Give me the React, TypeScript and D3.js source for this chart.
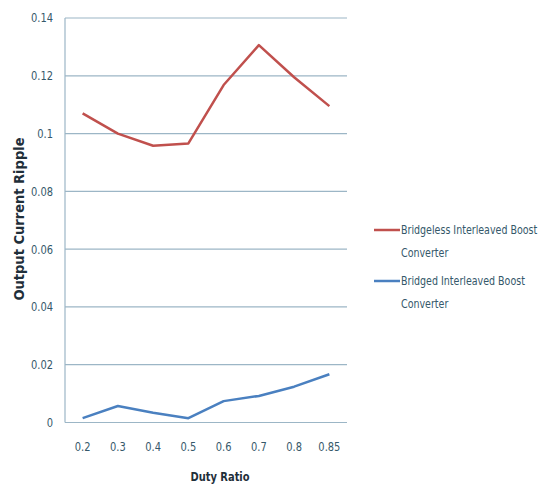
import React from "react";
import * as d3 from "d3";

const categories = ["0.2", "0.3", "0.4", "0.5", "0.6", "0.7", "0.8", "0.85"];
const bridgeless = [0.107, 0.1, 0.0958, 0.0966, 0.1168, 0.1306, 0.1195, 0.1095];
const bridged = [0.0015, 0.0057, 0.0034, 0.0015, 0.0074, 0.0092, 0.0124, 0.0167];
const yTicks = [0, 0.02, 0.04, 0.06, 0.08, 0.1, 0.12, 0.14];
const seriesNames = [
  ["Bridgeless Interleaved Boost", "Converter"],
  ["Bridged Interleaved Boost", "Converter"],
];
const colors = ["#c0504d", "#4a80c0"];

const W = 551;
const H = 484;
const left = 65;
const right = 347;
const top = 18;
const bottom = 422.5;
const font = "'DejaVu Sans Condensed', 'Liberation Sans Narrow', sans-serif";
const textColor = "#35586a";
const squeeze = 0.88;

// Horizontally condensed text anchored at (x, y)
function Narrow(props: {
  x: number;
  y: number;
  anchor?: "start" | "middle" | "end";
  size?: number;
  weight?: string;
  fill?: string;
  children: React.ReactNode;
}) {
  const { x, y, anchor = "start", size = 12, weight = "normal", fill = textColor } = props;
  return (
    <text
      transform={`translate(${x},${y}) scale(${squeeze},1)`}
      dy="0.35em"
      textAnchor={anchor}
      fontFamily={font}
      fontSize={size}
      fontWeight={weight}
      fill={fill}
    >
      {props.children}
    </text>
  );
}

export default function App() {
  const x = d3.scaleBand<string>().domain(categories).range([left, right]);
  const y = d3.scaleLinear().domain([0, 0.14]).range([bottom, top]);
  const line = d3
    .line<number>()
    .x((_, i) => (x(categories[i]) ?? 0) + x.bandwidth() / 2)
    .y((d) => y(d));
  const yFmt = (v: number) => (v === 0 ? "0" : String(+v.toFixed(2)));

  return (
    <svg
      width={W}
      height={H}
      style={{ position: "absolute", left: 0, top: 0, background: "#fff" }}
    >
      <rect width={W} height={H} fill="#fff" />
      {yTicks.map((t) => (
        <g key={t}>
          <line x1={left} x2={right} y1={y(t)} y2={y(t)} stroke="#9cb6c6" strokeWidth={1.2} />
          <Narrow x={53} y={y(t)} anchor="end" size={12.5}>
            {yFmt(t)}
          </Narrow>
        </g>
      ))}
      <line x1={left} x2={left} y1={top} y2={bottom} stroke="#9cb6c6" strokeWidth={1.2} />
      {categories.map((c) => (
        <Narrow key={c} x={(x(c) ?? 0) + x.bandwidth() / 2} y={447} anchor="middle" size={12.5}>
          {c}
        </Narrow>
      ))}
      <path d={line(bridgeless) ?? ""} fill="none" stroke={colors[0]} strokeWidth={2.5} strokeLinejoin="round" />
      <path d={line(bridged) ?? ""} fill="none" stroke={colors[1]} strokeWidth={2.5} strokeLinejoin="round" />
      <Narrow x={220} y={477} anchor="middle" size={12.5} weight="bold" fill="#1f2f3a">
        Duty Ratio
      </Narrow>
      <text
        transform={`translate(19, 219) rotate(-90)`}
        textAnchor="middle"
        dy="0.35em"
        fontFamily={font}
        fontSize={14.5}
        fontWeight="bold"
        fill="#1f2f3a"
      >
        Output Current Ripple
      </text>
      {seriesNames.map((lines, i) => {
        const ly = 230 + i * 51;
        return (
          <g key={i}>
            <line x1={374} x2={400} y1={ly} y2={ly} stroke={colors[i]} strokeWidth={2.5} />
            {lines.map((s, j) => (
              <Narrow key={j} x={401} y={ly + j * 23} size={12}>
                {s}
              </Narrow>
            ))}
          </g>
        );
      })}
    </svg>
  );
}
